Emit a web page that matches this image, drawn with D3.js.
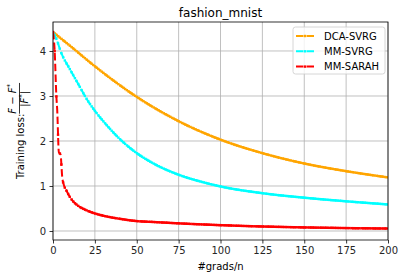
<!DOCTYPE html>
<html>
<head>
<meta charset="utf-8">
<script src="https://cdn.jsdelivr.net/npm/d3@7"></script>
<style>
  body { margin: 0; background: #fff; }
  svg { display: block; font-family: "DejaVu Sans", sans-serif; }
</style>
</head>
<body>
<svg id="chart" width="404" height="278"></svg>
<script>
// values
var xTicks = [0, 25, 50, 75, 100, 125, 150, 175, 200];
var yTicks = [0, 1, 2, 3, 4];

var dcaX = [0, 3, 10, 25, 50, 75, 100, 125, 150, 175, 200];
var dcaY = [4.42, 4.33, 4.12, 3.66, 2.98, 2.44, 2.03, 1.73, 1.5, 1.33, 1.19];

var svrgX = [0, 2, 5, 10, 15, 20, 25, 30, 40, 50, 60, 75, 90, 100, 125, 150, 175, 200];
var svrgY = [4.42, 4.27, 3.95, 3.6, 3.27, 2.94, 2.67, 2.44, 2.04, 1.73, 1.5, 1.25, 1.08, 0.99, 0.84, 0.74, 0.66, 0.59];

var sarahX = [0, 1, 2, 2.5, 3.5, 4.5, 5.5, 6.5, 8, 10, 12, 15, 20, 25, 30, 40, 50, 60, 75, 100, 125, 150, 175, 200];
var sarahY = [4.42, 4.0, 3.0, 2.7, 1.75, 1.7, 1.2, 1.02, 0.9, 0.76, 0.66, 0.56, 0.46, 0.39, 0.34, 0.27, 0.22, 0.2, 0.17, 0.13, 0.1, 0.08, 0.065, 0.055];

var seriesNames = ["DCA-SVRG", "MM-SVRG", "MM-SARAH"];
var seriesColors = ["#ffa500", "#00ffff", "#ff0000"];

var series = [
    { name: seriesNames[0], color: seriesColors[0], xs: dcaX, ys: dcaY },
    { name: seriesNames[1], color: seriesColors[1], xs: svrgX, ys: svrgY },
    { name: seriesNames[2], color: seriesColors[2], xs: sarahX, ys: sarahY }
];

var width = 404, height = 278;
var margin = { top: 22, right: 16, bottom: 38, left: 53 };
var plotW = width - margin.left - margin.right,
    plotH = height - margin.top - margin.bottom;

var svg = d3.select("#chart");

var x = d3.scaleLinear().domain([0, 200]).range([margin.left, margin.left + plotW]);
var y = d3.scaleLinear().domain([-0.2, 4.644]).range([margin.top + plotH, margin.top]);

svg.append("defs").append("clipPath")
    .attr("id", "plotclip")
    .append("rect")
    .attr("x", margin.left).attr("y", margin.top)
    .attr("width", plotW).attr("height", plotH);

// grid
var grid = svg.append("g").attr("class", "grid");
grid.selectAll("line.gx").data(xTicks).enter().append("line")
    .attr("x1", d => x(d)).attr("x2", d => x(d))
    .attr("y1", margin.top).attr("y2", margin.top + plotH)
    .attr("stroke", "#b0b0b0").attr("stroke-width", 0.8);
grid.selectAll("line.gy").data(yTicks).enter().append("line")
    .attr("x1", margin.left).attr("x2", margin.left + plotW)
    .attr("y1", d => y(d)).attr("y2", d => y(d))
    .attr("stroke", "#b0b0b0").attr("stroke-width", 0.8);

// lines
var line = d3.line()
    .x(d => x(d[0]))
    .y(d => y(d[1]))
    .curve(d3.curveMonotoneX);

var plot = svg.append("g").attr("clip-path", "url(#plotclip)");
var stepPx = x(1) - x(0);

series.forEach(function(s) {
    var pts = s.xs.map((v, i) => [v, s.ys[i]]);
    var path = plot.append("path")
        .datum(pts)
        .attr("d", line)
        .attr("fill", "none")
        .attr("stroke", s.color)
        .attr("stroke-width", 2)
        .attr("stroke-dasharray", "7.4,3.2");

    // small square markers along the drawn line, one per #grads/n unit
    var node = path.node();
    var total = node.getTotalLength();
    var nextX = x(0);
    var marks = [];
    for (var l = 0; l <= total; l += 0.4) {
        var p = node.getPointAtLength(l);
        if (p.x >= nextX) {
            marks.push(p);
            nextX += stepPx;
        }
    }
    plot.append("g").selectAll("rect").data(marks).enter().append("rect")
        .attr("x", d => d.x - 1.2).attr("y", d => d.y - 1.2)
        .attr("width", 2.4).attr("height", 2.4)
        .attr("fill", s.color);
});

// axes
var xAxis = d3.axisBottom(x).tickValues(xTicks).tickSize(3.5).tickPadding(3.5).tickFormat(d3.format("d"));
var yAxis = d3.axisLeft(y).tickValues(yTicks).tickSize(3.5).tickPadding(3.5).tickFormat(d3.format("d"));

var gx = svg.append("g").attr("transform", "translate(0," + (margin.top + plotH) + ")").call(xAxis);
var gy = svg.append("g").attr("transform", "translate(" + margin.left + ",0)").call(yAxis);
[gx, gy].forEach(function(g) {
    g.select(".domain").remove();
    g.selectAll(".tick line").attr("stroke", "#000").attr("stroke-width", 0.8);
    g.selectAll(".tick text").attr("fill", "#262626").style("font-size", "10px")
        .style("font-family", "DejaVu Sans");
});

// frame
svg.append("rect")
    .attr("x", margin.left).attr("y", margin.top)
    .attr("width", plotW).attr("height", plotH)
    .attr("fill", "none").attr("stroke", "#000").attr("stroke-width", 0.8);

// title
svg.append("text")
    .attr("x", margin.left + plotW / 2).attr("y", 17)
    .attr("text-anchor", "middle")
    .style("font-size", "12px")
    .text("fashion_mnist");

// x label
svg.append("text")
    .attr("x", margin.left + plotW / 2).attr("y", 270)
    .attr("text-anchor", "middle")
    .style("font-size", "10px")
    .text("#grads/n");

// y label: "Training loss: (F - F*)/|F*|"
var yl = svg.append("g").attr("transform", "rotate(-90)");
var ylText = yl.append("text")
    .attr("y", 24)
    .style("font-size", "10px")
    .text("Training loss: ");
var lead = ylText.node().getComputedTextLength();
var num = yl.append("text").attr("y", 16.3).style("font-size", "10px").attr("text-anchor", "middle");
num.append("tspan").style("font-style", "italic").text("F");
num.append("tspan").text(" \u2212 ");
num.append("tspan").style("font-style", "italic").text("F");
num.append("tspan").attr("dy", -4).style("font-size", "7px").text("*");
var den = yl.append("text").attr("y", 28).style("font-size", "10px").attr("text-anchor", "middle");
den.append("tspan").text("|");
den.append("tspan").style("font-style", "italic").text("F");
den.append("tspan").attr("dy", -4).style("font-size", "7px").text("*");
den.append("tspan").attr("dy", 4).text("|");
var fracW = Math.max(num.node().getComputedTextLength(), den.node().getComputedTextLength());
var totalW = lead + fracW + 1;
var startX = -(margin.top + plotH / 2) - totalW / 2;
ylText.attr("x", startX);
num.attr("x", startX + lead + fracW / 2);
den.attr("x", startX + lead + fracW / 2);
yl.append("line")
    .attr("x1", startX + lead).attr("x2", startX + lead + fracW + 1)
    .attr("y1", 19.5).attr("y2", 19.5)
    .attr("stroke", "#000").attr("stroke-width", 0.8);

// legend
var legend = svg.append("g").attr("transform", "translate(293,27)");
legend.append("rect")
    .attr("width", 92).attr("height", 47).attr("rx", 2.5)
    .attr("fill", "#fff").attr("fill-opacity", 0.8)
    .attr("stroke", "#cccccc").attr("stroke-width", 0.8);
var rows = legend.selectAll("g.row").data(series).enter().append("g")
    .attr("transform", (d, i) => "translate(0," + (9 + i * 15.3) + ")");
rows.append("line")
    .attr("x1", 3).attr("x2", 21).attr("y1", 0).attr("y2", 0)
    .attr("stroke", d => d.color).attr("stroke-width", 2)
    .attr("stroke-dasharray", "7.4,3.2");
rows.append("rect")
    .attr("x", 10.8).attr("y", -1.2).attr("width", 2.4).attr("height", 2.4)
    .attr("fill", d => d.color);
rows.append("text")
    .attr("x", 31).attr("y", 0).attr("dy", "0.35em")
    .style("font-size", "10px")
    .text(d => d.name);
</script>
</body>
</html>
